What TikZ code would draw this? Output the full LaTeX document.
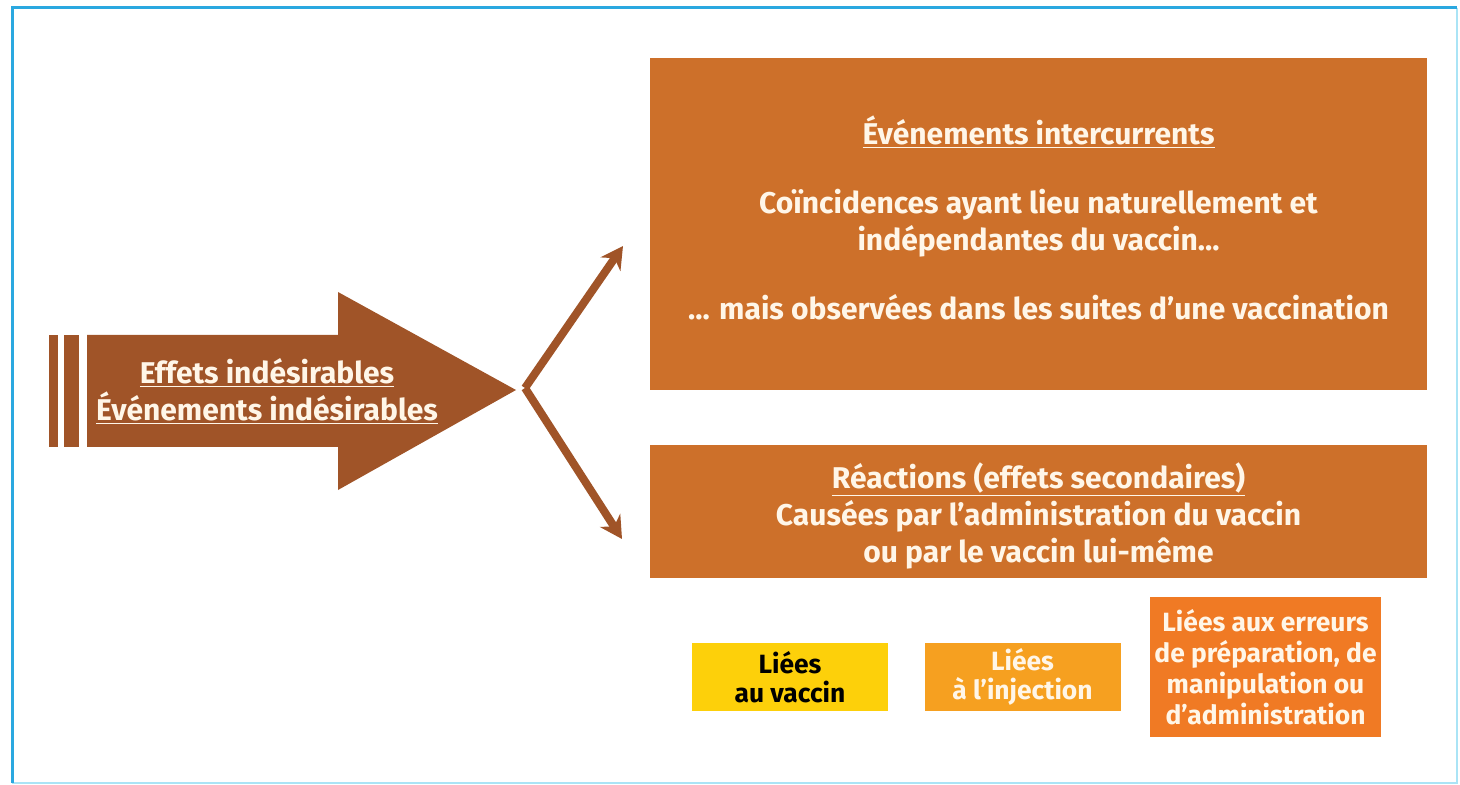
\documentclass[tikz,border=0pt]{standalone}
\usepackage{fontspec}
\setmainfont{Fira Sans}
\definecolor{framecyan}{RGB}{42,168,224}
\definecolor{framelight}{RGB}{170,228,246}
\definecolor{arrowbrown}{RGB}{160,84,40}
\definecolor{boxorange}{RGB}{205,112,42}
\definecolor{cream}{RGB}{255,246,232}
\definecolor{vaccinyellow}{RGB}{253,208,10}
\definecolor{injectorange}{RGB}{246,160,32}
\definecolor{errororange}{RGB}{240,122,36}
\usetikzlibrary{
  arrows.meta,
  calc,
  positioning,
}
\tikzset{
  >={Stealth[length=11pt,width=12pt]},
  bigbox/.style={fill=boxorange, draw=none, minimum width=388.5pt,
    inner sep=0pt},
  bigtext/.style={align=center, text=cream, inner sep=0pt,
    font=\fontsize{15}{18.5}\selectfont\bfseries},
  smallbox/.style={draw=none, align=center, inner sep=0pt,
    font=\fontsize{13.2}{14.5}\selectfont\bfseries},
  forkarrow/.style={draw=arrowbrown, line width=4pt, ->},
}

\begin{document}
\begin{tikzpicture}[x=0.5pt, y=-0.5pt]
  \useasboundingbox (0,0) rectangle (1460,785);
  % frame
  \draw [framelight, line width=1pt] (1457,8) -- (1457,783) -- (12,783);
  \draw [framecyan, line width=1.5pt] (12,783) -- (12,8) -- (1457,8);

  % big arrow
  \fill [arrowbrown] (49,335) rectangle (58,447);
  \fill [arrowbrown] (64,335) rectangle (79,447);
  \fill [arrowbrown] (87,335) -- (338,335) -- (338,292) -- (516,390)
        -- (338,490) -- (338,447) -- (87,447) -- cycle;
  \node [bigtext, text depth=0pt] at (267,389) (effets)
        {\underline{Effets indésirables}\\\underline{Événements indésirables}};

  % boxes
  \node [bigbox, minimum height=166pt] at (1038.5,224) (events) {};
  \node [bigtext] at ([yshift=3pt]events.center) (eventstext)
        {\underline{Événements intercurrents}\\[16pt]
         Coïncidences ayant lieu naturellement et\\
         indépendantes du vaccin...\\[16pt]
         ... mais observées dans les suites d'une vaccination};
  \node [bigbox, minimum height=66.5pt] at (1038.5,511.5) (reactions) {};
  \node [bigtext] at ([yshift=-2pt]reactions.center) (reactionstext)
        {\underline{Réactions (effets secondaires)}\\
         Causées par l'administration du vaccin\\
         ou par le vaccin lui-même};

  % fork
  \coordinate (fork) at (525,388);
  \coordinate (upend) at (623,246);
  \coordinate (downend) at (622,539);
  \draw [forkarrow] (fork) -- (upend);
  \draw [forkarrow] (fork) -- (downend);

  % small boxes
  \node [smallbox, fill=vaccinyellow, text=black, minimum width=98pt,
         minimum height=34pt] at (790,677) (vaccin) {Liées\\au vaccin};
  \node [smallbox, fill=injectorange, text=cream, minimum width=98pt,
         minimum height=34pt] at (1022.5,677) (injection) {Liées\\à l'injection};
  \node [smallbox, fill=errororange, text=cream, minimum width=115.5pt,
         minimum height=70pt, font=\fontsize{13.2}{15.5}\selectfont\bfseries]
        at (1265.5,667) (erreurs)
        {Liées aux erreurs\\de préparation, de\\manipulation ou\\d'administration};
\end{tikzpicture}
\end{document}
